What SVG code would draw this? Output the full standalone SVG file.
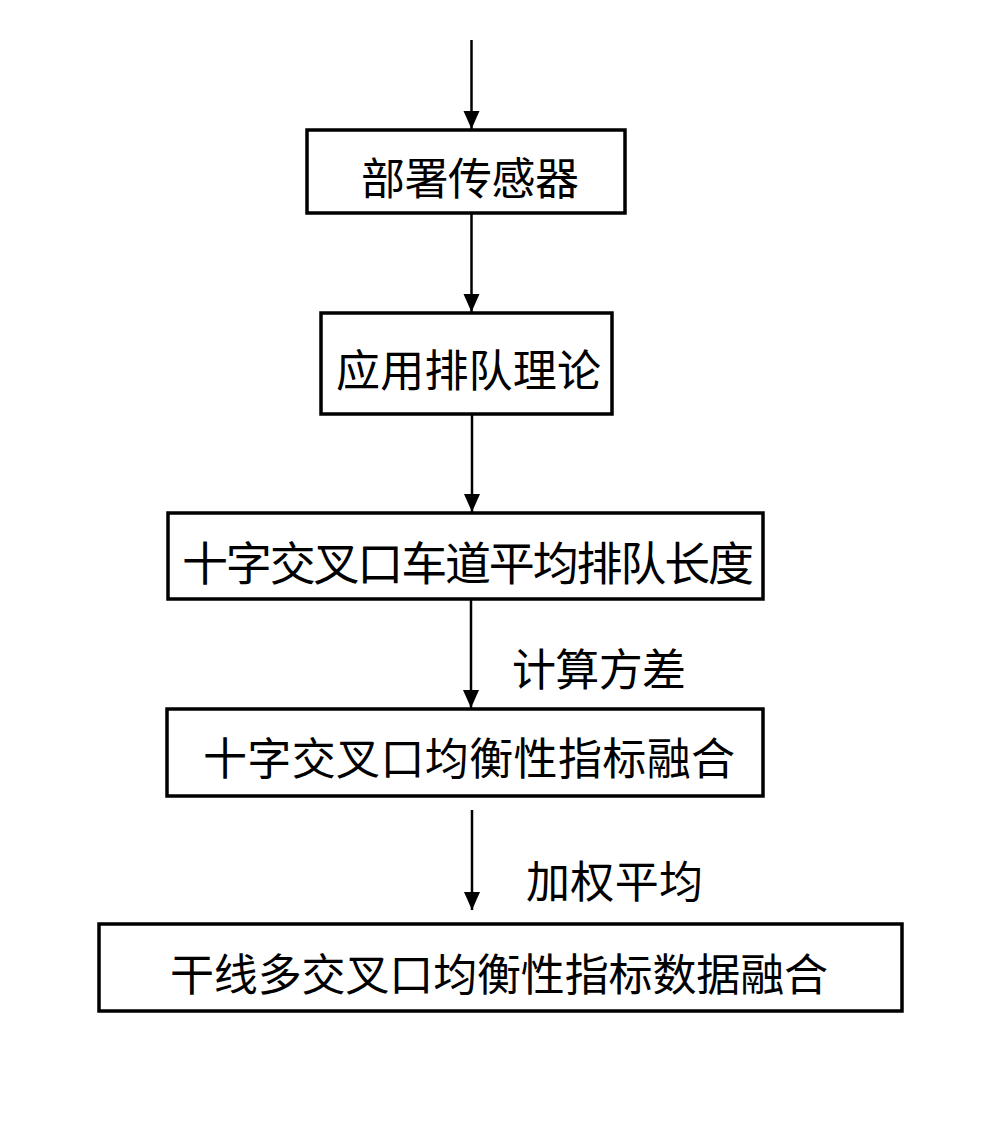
<svg xmlns="http://www.w3.org/2000/svg" width="984" height="1140" viewBox="0 0 984 1140">
  <defs>
    <marker id="arrow" markerWidth="18" markerHeight="20" refX="18" refY="8" orient="auto" markerUnits="userSpaceOnUse" viewBox="0 0 18 16">
      <path d="M0,0 L18,8 L0,16 Z" fill="#000"/>
    </marker>
    <style>
      .box { fill: #fff; stroke: #000; stroke-width: 3.5; }
      .conn { stroke: #000; stroke-width: 2.5; fill: none; marker-end: url(#arrow); }
      .t { font-family: "Noto Sans CJK SC", "Noto Sans", sans-serif; fill: #000; text-anchor: middle; dominant-baseline: central; }
    </style>
  </defs>
  <rect width="984" height="1140" fill="#fff"/>

  <g id="connectors">
    <line class="conn" x1="471.5" y1="40" x2="471.5" y2="129"/>
    <line class="conn" x1="471.5" y1="213" x2="471.5" y2="312"/>
    <line class="conn" x1="472" y1="414" x2="472" y2="512"/>
    <line class="conn" x1="471" y1="599" x2="471" y2="708"/>
    <line class="conn" x1="472" y1="810" x2="472" y2="910"/>
  </g>

  <g id="node1">
    <rect class="box" x="307" y="130" width="318" height="83"/>
    <text class="t" x="470" y="176" font-size="44" textLength="218" lengthAdjust="spacing">部署传感器</text>
  </g>
  <g id="node2">
    <rect class="box" x="321" y="313" width="291" height="101"/>
    <text class="t" x="468.5" y="368" font-size="44" textLength="265" lengthAdjust="spacing">应用排队理论</text>
  </g>
  <g id="node3">
    <rect class="box" x="168" y="513" width="595" height="86"/>
    <text class="t" x="468" y="560" font-size="46" textLength="572" lengthAdjust="spacing">十字交叉口车道平均排队长度</text>
  </g>
  <g id="label1">
    <text class="t" x="599" y="667" font-size="44" textLength="174" lengthAdjust="spacing">计算方差</text>
  </g>
  <g id="node4">
    <rect class="box" x="167" y="709" width="596" height="87"/>
    <text class="t" x="469" y="756" font-size="44" textLength="532" lengthAdjust="spacing">十字交叉口均衡性指标融合</text>
  </g>
  <g id="label2">
    <text class="t" x="614.5" y="879" font-size="44" textLength="177" lengthAdjust="spacing">加权平均</text>
  </g>
  <g id="node5">
    <rect class="box" x="99" y="924" width="803" height="87"/>
    <text class="t" x="499" y="971.5" font-size="44" textLength="658" lengthAdjust="spacing">干线多交叉口均衡性指标数据融合</text>
  </g>
</svg>
